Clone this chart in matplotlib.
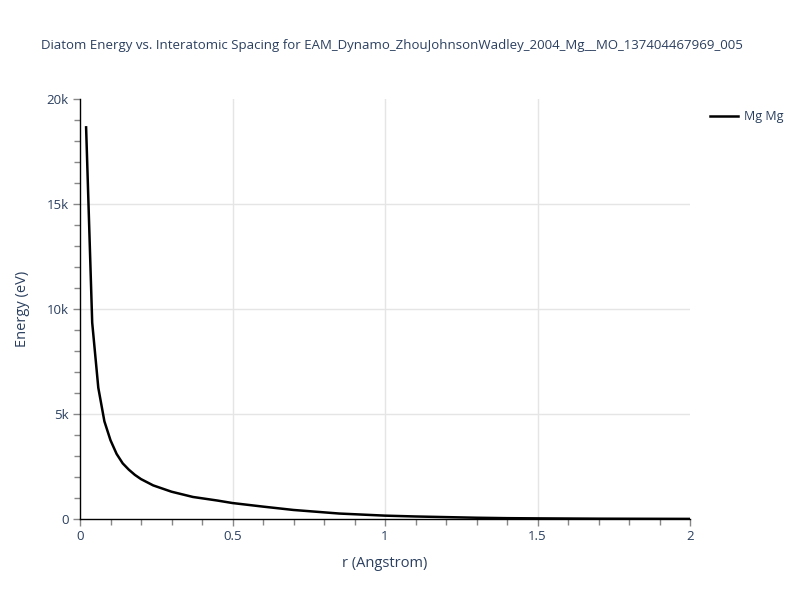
import matplotlib
matplotlib.use("Agg")
import matplotlib.pyplot as plt
from matplotlib.ticker import MultipleLocator, FuncFormatter

# =============================================================================
# DATA
# =============================================================================
r_angstrom = [0.02, 0.04, 0.06, 0.08, 0.10, 0.12, 0.14, 0.16, 0.18, 0.20,
              0.24, 0.30, 0.37, 0.45, 0.50, 0.60, 0.70, 0.85, 1.00, 1.10,
              1.20, 1.30, 1.40, 1.50, 1.70, 2.00]
energy_ev = [18650, 9350, 6250, 4650, 3750, 3100, 2650, 2350, 2100, 1900,
             1600, 1300, 1050, 880, 760, 590, 430, 260, 160, 120,
             90, 60, 40, 30, 15, 5]

x_ticks = [0, 0.5, 1, 1.5, 2]
y_ticks = [0, 5000, 10000, 15000, 20000]
series_name = "Mg Mg"
title = "Diatom Energy vs. Interatomic Spacing for EAM_Dynamo_ZhouJohnsonWadley_2004_Mg__MO_137404467969_005"

TEXT = "#2a3f5f"
GRID = "#e5e5e5"
TICK = "#888888"

plt.rcParams['font.family'] = ['Open Sans', 'DejaVu Sans']

fig = plt.figure(figsize=(8, 6), dpi=100, facecolor="white")
ax = fig.add_axes([0.1, 0.135, 0.7625, 0.70])

# interior grid only (plotly style)
for v in x_ticks[1:-1]:
    ax.axvline(v, color=GRID, linewidth=1, zorder=0)
for v in y_ticks[1:-1]:
    ax.axhline(v, color=GRID, linewidth=1, zorder=0)

ax.plot(r_angstrom, energy_ev, color="black", linewidth=1.8, label=series_name, zorder=3)

ax.set_xlim(0, 2)
ax.set_ylim(0, 20000)
ax.set_xticks(x_ticks)
ax.set_yticks(y_ticks)
ax.xaxis.set_minor_locator(MultipleLocator(0.1))
ax.yaxis.set_minor_locator(MultipleLocator(1000))
ax.xaxis.set_major_formatter(FuncFormatter(lambda v, p: f"{v:g}"))
ax.yaxis.set_major_formatter(FuncFormatter(lambda v, p: "0" if v == 0 else f"{v/1000:g}k"))

ax.tick_params(which="major", direction="out", length=5, width=1, color=TICK,
               labelcolor=TEXT, labelsize=9.5, pad=3)
ax.tick_params(which="minor", direction="out", length=4, width=1, color=TICK)

for spine in ["top", "right"]:
    ax.spines[spine].set_visible(False)
for spine in ["left", "bottom"]:
    ax.spines[spine].set_color("black")
    ax.spines[spine].set_linewidth(1)

ax.set_xlabel("r (Angstrom)", color=TEXT, fontsize=10.5, labelpad=9)
ax.set_ylabel("Energy (eV)", color=TEXT, fontsize=10.5, labelpad=12)

fig.text(0.49, 0.925, title, color=TEXT, fontsize=9.5, ha="center", va="center")

leg = ax.legend(loc="upper left", bbox_to_anchor=(1.015, 1.0), frameon=False,
                fontsize=9, handlelength=2.2, handletextpad=0.5, labelcolor=TEXT)

fig.savefig("out.png", dpi=100, facecolor="white")
